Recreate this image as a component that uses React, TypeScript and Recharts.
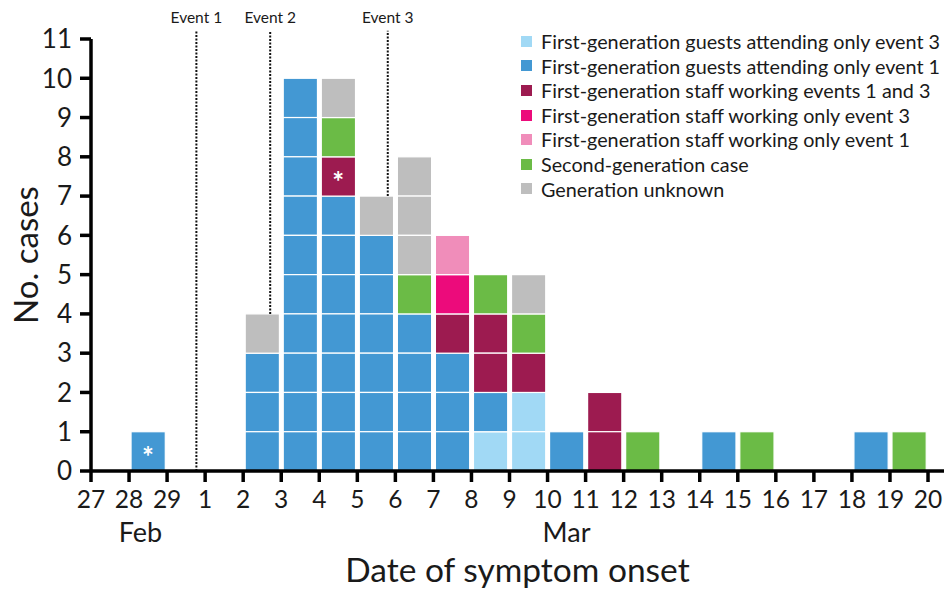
import React from "react";
import {
  ComposedChart,
  Bar,
  XAxis,
  YAxis,
  ReferenceLine,
  ReferenceDot,
  Legend,
} from "recharts";

// interval start day for every bar (27 Feb .. 19 Mar)
const days = ["27", "28", "29", "1", "2", "3", "4", "5", "6", "7", "8", "9", "10", "11", "12", "13", "14", "15", "16", "17", "18", "19"];
// tick labels sit on the day boundaries
const dayTicks = [...days, "20"];

// case counts per day, one array per category (stack order bottom -> top)
const guestsEvent3 = [0, 0, 0, 0, 0, 0, 0, 0, 0, 0, 1, 2, 0, 0, 0, 0, 0, 0, 0, 0, 0, 0];
const guestsEvent1 = [0, 1, 0, 0, 3, 10, 7, 6, 4, 3, 1, 0, 1, 0, 0, 0, 1, 0, 0, 0, 1, 0];
const staffEvents13 = [0, 0, 0, 0, 0, 0, 1, 0, 0, 1, 2, 1, 0, 2, 0, 0, 0, 0, 0, 0, 0, 0];
const staffEvent3 = [0, 0, 0, 0, 0, 0, 0, 0, 0, 1, 0, 0, 0, 0, 0, 0, 0, 0, 0, 0, 0, 0];
const staffEvent1 = [0, 0, 0, 0, 0, 0, 0, 0, 0, 1, 0, 0, 0, 0, 0, 0, 0, 0, 0, 0, 0, 0];
const secondGen = [0, 0, 0, 0, 0, 0, 1, 0, 1, 0, 1, 1, 0, 0, 1, 0, 0, 1, 0, 0, 0, 1];
const genUnknown = [0, 0, 0, 0, 1, 0, 1, 1, 3, 0, 0, 1, 0, 0, 0, 0, 0, 0, 0, 0, 0, 0];

const series = [
  { key: "guestsEvent3", name: "First-generation guests attending only event 3", color: "#a1d9f5", values: guestsEvent3 },
  { key: "guestsEvent1", name: "First-generation guests attending only event 1", color: "#4398d3", values: guestsEvent1 },
  { key: "staffEvents13", name: "First-generation staff working events 1 and 3", color: "#9d1b50", values: staffEvents13 },
  { key: "staffEvent3", name: "First-generation staff working only event 3", color: "#ec0b7b", values: staffEvent3 },
  { key: "staffEvent1", name: "First-generation staff working only event 1", color: "#f08dba", values: staffEvent1 },
  { key: "secondGen", name: "Second-generation case", color: "#6bbb46", values: secondGen },
  { key: "genUnknown", name: "Generation unknown", color: "#bebebe", values: genUnknown },
];

// events: position in days from 27 Feb, and where the dotted line stops
const eventNames = ["Event 1", "Event 2", "Event 3"];
const eventX = [2.77, 4.71, 7.8];
const eventBottom = [0, 4, 7];
const eventTop = 11.21;

// asterisk-marked cases (cell centres)
const asteriskX = [1.5, 6.5];
const asteriskY = [0.5, 7.5];

const monthNames = ["Feb", "Mar"];
const monthPos = [1.3, 12.5];

const yTicks = [0, 1, 2, 3, 4, 5, 6, 7, 8, 9, 10, 11];
const xTicks = dayTicks.map((_, i) => i);

const data = days.map((d, i) => {
  const row: { [k: string]: number | string } = { x: i + 0.5, day: d };
  series.forEach((s) => (row[s.key] = s.values[i]));
  return row;
});

const FONT = "Lato, 'Open Sans', sans-serif";
const INK = "#1a1a1a";

// each case is its own square, separated by white lines
const blockShape = (key: string) => (props: any) => {
  const { x, y, width, height, fill, payload } = props;
  const n = payload ? Number(payload[key]) : 0;
  if (!n || !height || height <= 0) return <g />;
  const u = height / n;
  return (
    <g>
      {Array.from({ length: n }, (_, k) => (
        <rect
          key={k}
          x={x}
          y={y + k * u}
          width={width}
          height={u}
          fill={fill}
          stroke="#fff"
          strokeWidth={1.2}
        />
      ))}
    </g>
  );
};

const renderLegend = () => (
  <div style={{ fontFamily: FONT, fontSize: 19.8, color: INK, lineHeight: "24.6px" }}>
    {series.map((s) => (
      <div key={s.key} style={{ display: "flex", alignItems: "center", whiteSpace: "nowrap" }}>
        <span
          style={{
            display: "inline-block",
            width: 11,
            height: 11,
            background: s.color,
            marginRight: 9,
          }}
        />
        {s.name}
      </div>
    ))}
  </div>
);

function App() {
  return (
    <div style={{ width: 944, height: 589, fontFamily: FONT, position: "relative" }}>
      <style>{"body{margin:0}"}</style>
      <ComposedChart
        width={944}
        height={589}
        data={data}
        margin={{ top: 39, right: 0, left: 0, bottom: 0 }}
        barGap={0}
        barCategoryGap={0}
      >
        <XAxis
          dataKey="x"
          type="number"
          domain={[0, 22.42]}
          ticks={xTicks}
          interval={0}
          tickFormatter={(v) => dayTicks[v]}
          allowDataOverflow
          height={40}
          axisLine={{ stroke: "#000", strokeWidth: 3.5 }}
          tickLine={{ stroke: "#000", strokeWidth: 3.5 }}
          tickSize={11}
          tickMargin={9}
          tick={{ fill: INK, fontSize: 24.5 }}
        />
        <XAxis
          xAxisId="month"
          dataKey="x"
          type="number"
          domain={[0, 22.42]}
          ticks={monthPos}
          interval={0}
          tickFormatter={(v) => monthNames[monthPos.indexOf(v)]}
          height={78}
          axisLine={false}
          tickLine={false}
          tickSize={0}
          tickMargin={12}
          tick={{ fill: INK, fontSize: 27 }}
          label={{
            value: "Date of symptom onset",
            position: "insideBottom",
            offset: 7,
            fill: INK,
            fontSize: 33.5,
          }}
        />
        <YAxis
          type="number"
          domain={[0, 11]}
          ticks={yTicks}
          interval={0}
          width={91}
          axisLine={{ stroke: "#000", strokeWidth: 3.5 }}
          tickLine={{ stroke: "#000", strokeWidth: 3.5 }}
          tickSize={11}
          tickMargin={8}
          tick={{ fill: INK, fontSize: 26 }}
          label={{
            content: ({ viewBox }: any) => {
              const cy = viewBox.y + viewBox.height / 2;
              return (
                <text
                  x={38}
                  y={cy}
                  transform={`rotate(-90 38 ${cy})`}
                  textAnchor="middle"
                  fill={INK}
                  fontSize={33}
                >
                  No. cases
                </text>
              );
            },
          }}
        />
        <Legend
          layout="vertical"
          align="center"
          verticalAlign="middle"
          content={renderLegend}
          wrapperStyle={{ top: 29, left: 521, width: 430, right: "auto", bottom: "auto" }}
        />
        {series.map((s) => (
          <Bar
            key={s.key}
            dataKey={s.key}
            name={s.name}
            stackId="cases"
            fill={s.color}
            barSize={38.07}
            shape={blockShape(s.key)}
            isAnimationActive={false}
          />
        ))}
        {eventX.map((ex, i) => (
          <ReferenceLine
            key={eventNames[i]}
            segment={[
              { x: ex, y: eventBottom[i] },
              { x: ex, y: eventTop },
            ]}
            ifOverflow="visible"
            stroke="#111"
            strokeWidth={2}
            strokeDasharray="2 1.5"
            label={{
              content: ({ viewBox }: any) => (
                <text
                  x={viewBox.x}
                  y={viewBox.y - 8}
                  textAnchor="middle"
                  fill={INK}
                  fontSize={15.5}
                >
                  {eventNames[i]}
                </text>
              ),
            }}
          />
        ))}
        {asteriskX.map((ax, i) => (
          <ReferenceDot
            key={`ast-${i}`}
            x={ax}
            y={asteriskY[i]}
            ifOverflow="visible"
            shape={(p: any) => (
              <text
                x={p.cx}
                y={p.cy + 16}
                textAnchor="middle"
                fill="#fff"
                fontSize={28}
                fontWeight="bold"
              >
                *
              </text>
            )}
          />
        ))}
      </ComposedChart>
    </div>
  );
}

export default App;
